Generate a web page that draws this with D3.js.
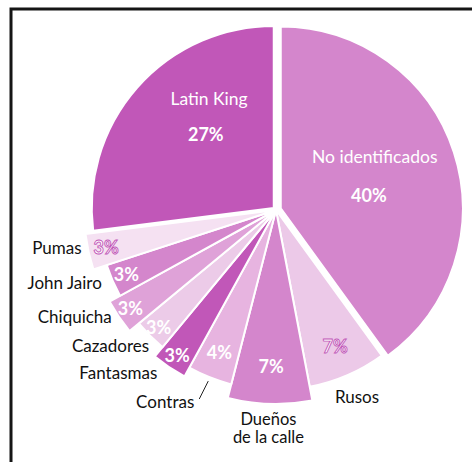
<!DOCTYPE html>
<html><head><meta charset="utf-8">
<script src="https://cdn.jsdelivr.net/npm/d3@7"></script>
<style>body{margin:0;background:#fff} svg{display:block}</style>
</head><body><svg id="c" width="472" height="462"></svg>
<script>
const categories = ["No identificados","Rusos","Dueños de la calle","Contras","Fantasmas","Cazadores","Chiquicha","John Jairo","Pumas","Latin King"];
const values = [40,7,7,4,3,3,3,3,3,27];
const valueLabels = ["40%","7%","7%","4%","3%","3%","3%","3%","3%","27%"];

const cx = 276, cy = 210;
const colors = ["#d486cc","#ecc9e8","#d486cc","#e7b4e0","#c157b8","#eccbe8","#dfa2d8","#d486cc","#f5e1f2","#c157b8"];
const outerR = [182,180,194,180,190,178,190,178,192,182];
const explode = [5,0,0,0,0,0,0,0,0,3];
const pctR = [0,149,157,154,176,166,176,163,174,0];
const outlined = [false,true,false,false,false,false,false,false,true,false];
// [radius, angle in degrees] of the end of left-side category labels
const sideLabelPos = {4:[202,216], 5:[186,223], 6:[196,236.9], 7:[189,247.2], 8:[198,259]};
const FONT = "Lato, 'Open Sans', sans-serif";

const svg = d3.select("#c");
svg.append("path").attr("d","M11,462V9H472").attr("fill","none").attr("stroke","#151515").attr("stroke-width",3);

const arcs = d3.pie().sort(null).value(d => d)(values);
const g = svg.append("g").attr("transform", `translate(${cx},${cy})`);
const mid = d => (d.startAngle + d.endAngle) / 2;
const pt = (a, r) => [Math.sin(a) * r, -Math.cos(a) * r];
const deg = Math.PI / 180;

g.selectAll("path.slice").data(arcs).join("path")
  .attr("class","slice")
  .attr("d", (d,i) => d3.arc().innerRadius(0).outerRadius(outerR[i])(d))
  .attr("transform", (d,i) => { const p = pt(mid(d), explode[i]); return `translate(${p[0]},${p[1]})`; })
  .attr("fill", (d,i) => colors[i])
  .attr("stroke", "#fff").attr("stroke-width", 2).attr("stroke-linejoin","miter");

// percentage labels in small slices
arcs.forEach((d,i) => {
  if (!pctR[i]) return;
  const p = pt(mid(d), pctR[i]);
  const t = g.append("text").attr("x", p[0]).attr("y", p[1]).attr("dy","0.35em")
    .attr("text-anchor","middle").attr("font-family",FONT).attr("font-weight",700)
    .attr("font-size",18).attr("fill","#fff").text(valueLabels[i]);
  if (outlined[i]) t.attr("stroke","#c157b8").attr("stroke-width",0.9);
});

// big slice labels
const bigLabels = [
  {i:0, name:[112,61.8], pct:[94,81.4]},
  {i:9, name:[130,-31], pct:[103,-43]}
];
bigLabels.forEach(b => {
  const p1 = pt(b.name[1]*deg, b.name[0]);
  g.append("text").attr("x",p1[0]).attr("y",p1[1]).attr("dy","0.35em").attr("text-anchor","middle")
    .attr("font-family",FONT).attr("font-size",17.5).attr("fill","#fff").text(categories[b.i]);
  const p2 = pt(b.pct[1]*deg, b.pct[0]);
  g.append("text").attr("x",p2[0]).attr("y",p2[1]).attr("dy","0.35em").attr("text-anchor","middle")
    .attr("font-family",FONT).attr("font-weight",700).attr("font-size",18).attr("fill","#fff").text(valueLabels[b.i]);
});

// outer category labels
arcs.forEach((d,i) => {
  if (i === 0 || i === 9) return;
  const a = mid(d);
  const name = categories[i];
  if (i === 2) {
    const p = pt(a, outerR[i] + 16);
    ["Dueños","de la calle"].forEach((w,k) =>
      g.append("text").attr("font-family",FONT).attr("font-size",16.5).attr("fill","#111")
        .attr("text-anchor","middle").attr("x",p[0]-1).attr("y",p[1] - 0.5 + k*18.5).attr("dy","0.32em").text(w));
    return;
  }
  const txt = g.append("text").attr("font-family",FONT).attr("font-size",17).attr("fill","#111");
  if (i === 1) {
    const p = pt(a, outerR[i] + 24);
    txt.attr("x",p[0]).attr("y",p[1]).attr("dy","0.35em").attr("text-anchor","middle").text(name);
  } else if (i === 3) {
    const a1 = pt(a, outerR[i] + 4), a2 = pt(a + 0.5*deg, outerR[i] + 24);
    g.append("line").attr("x1",a1[0]).attr("y1",a1[1]).attr("x2",a2[0]).attr("y2",a2[1])
      .attr("stroke","#222").attr("stroke-width",1);
    txt.attr("x",a2[0]-5).attr("y",a2[1]+3).attr("dy","0.35em").attr("text-anchor","end").text(name);
  } else {
    const lp = sideLabelPos[i];
    const p = pt(lp[1]*deg, lp[0]);
    txt.attr("x",p[0]).attr("y",p[1]).attr("dy","0.35em").attr("text-anchor","end").text(name);
  }
});
</script></body></html>
